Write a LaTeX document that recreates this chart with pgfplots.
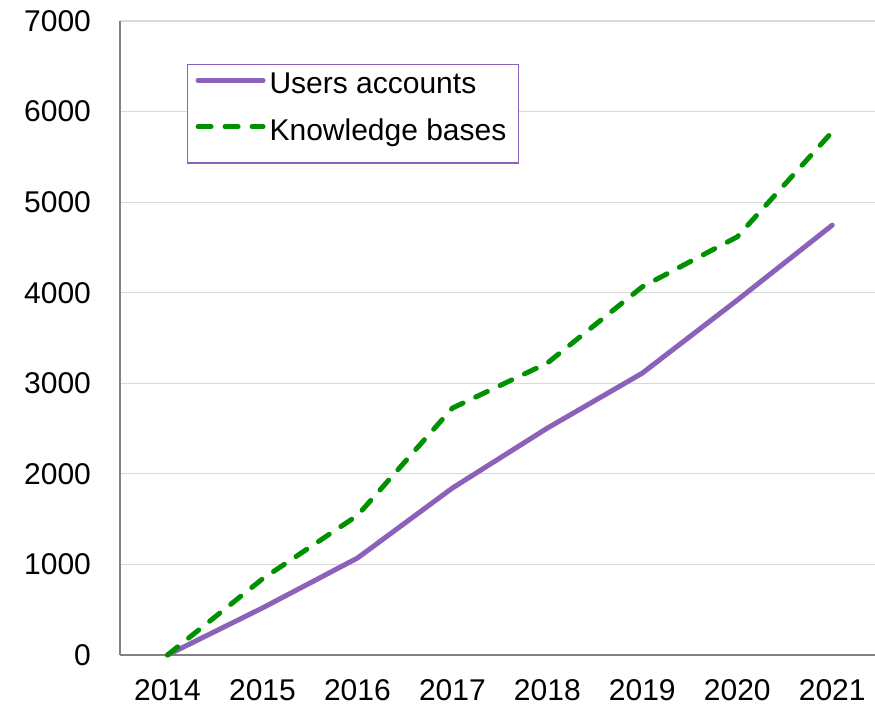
\documentclass[border=0pt]{standalone}
\usepackage{fontspec}
\setmainfont{Liberation Sans}
\usepackage{pgfplots}
\pgfplotsset{compat=1.18}
\definecolor{ua}{RGB}{140,98,185}
\definecolor{kb}{RGB}{0,145,0}
\definecolor{gridc}{RGB}{217,217,217}
\definecolor{axc}{RGB}{130,130,130}
\begin{document}
\begin{tikzpicture}
\begin{axis}[
 at={(0,0)}, anchor=south west,
 scale only axis, width=377.5pt, height=317pt,
 xmin=-0.5, xmax=7.45, ymin=0, ymax=7000,
 xtick={0,1,2,3,4,5,6,7},
 xticklabels={2014,2015,2016,2017,2018,2019,2020,2021},
 ytick={0,1000,2000,3000,4000,5000,6000,7000},
 ymajorgrids,
 grid style={draw=gridc, line width=0.6pt},
 axis x line=bottom, axis y line=left,
 axis line style={-, draw=axc, line width=0.8pt},
 major tick length=0pt,
 tick label style={font=\fontsize{15}{18}\selectfont},
 /pgf/number format/assume math mode=true,
 /pgf/number format/1000 sep={},
 yticklabel style={xshift=-11pt},
 xticklabel style={yshift=-9pt},
 clip=false,
 legend style={at={(axis description cs:0.0887,0.932)}, anchor=north west,
   draw=ua, line width=0.6pt, font=\fontsize{15}{18}\selectfont,
   inner xsep=4pt, inner ysep=2pt, row sep=1pt,
   nodes={text depth=7.5pt}},
 legend image code/.code={\draw[#1] (0pt,5pt) -- (32.5pt,5pt);},
 legend cell align=left,
]
\addplot[ua, line width=2.5pt, line cap=round, line join=round] coordinates {
 (0,0) (1,519) (2,1070) (3,1843) (4,2505) (5,3112) (6,3918) (7,4746)};
\addlegendentry{Users accounts}
\addplot[kb, line width=2.5pt, line cap=round, line join=round, dash pattern=on 6.5pt off 7pt] coordinates {
 (0,0) (1,840) (2,1540) (3,2726) (4,3223) (5,4065) (6,4617) (7,5776)};
\addlegendentry{Knowledge bases}
\end{axis}
\pgfresetboundingbox
\path[use as bounding box] (-60pt,-27.5pt) rectangle (377.5pt,327.5pt);
\end{tikzpicture}
\end{document}
